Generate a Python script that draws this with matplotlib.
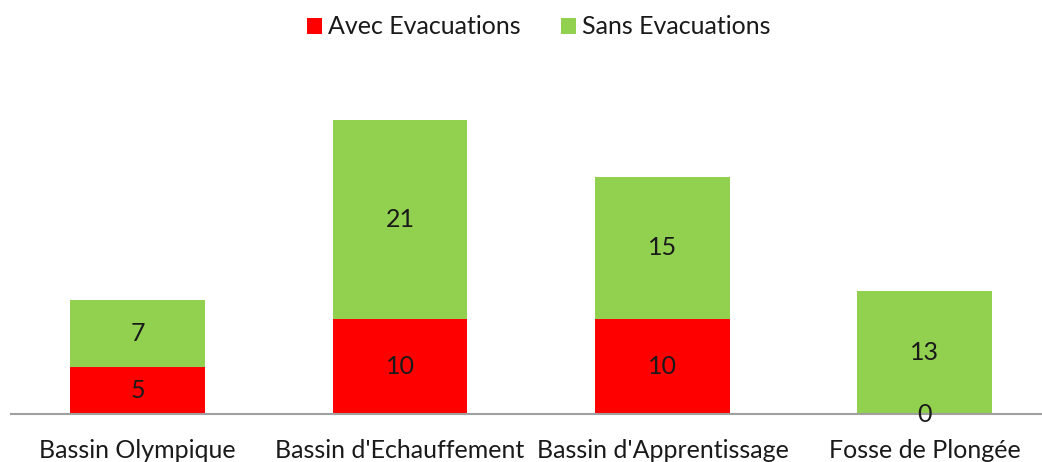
import matplotlib.pyplot as plt
import numpy as np

categories = ["Bassin Olympique", "Bassin d'Echauffement",
              "Bassin d'Apprentissage", "Fosse de Plongée"]
avec = [5, 10, 10, 0]
sans = [7, 21, 15, 13]
series_names = ["Avec Evacuations", "Sans Evacuations"]

plt.rcParams["font.family"] = ["Lato", "DejaVu Sans"]

W, H = 1042, 462
fig = plt.figure(figsize=(W / 100, H / 100), dpi=100)
ax = fig.add_axes([11 / W, 48 / H, (1042 - 11) / W, 354 / H])

x = np.arange(len(categories))
width = 0.514
b1 = ax.bar(x, avec, width, color="#FF0000", label=series_names[0])
b2 = ax.bar(x, sans, width, bottom=avec, color="#92D050", label=series_names[1])

for rects, vals, bottoms in [(b1, avec, [0] * 4), (b2, sans, avec)]:
    for r, v, b in zip(rects, vals, bottoms):
        ax.text(r.get_x() + r.get_width() / 2, b + v / 2, str(v),
                ha="center", va="center", fontsize=18, color="#1a1a1a")

ax.set_xlim(-0.482, 3.446)
ax.set_ylim(0, 37.3)
ax.set_xticks(x)
ax.set_xticklabels(categories, fontsize=18, color="#1a1a1a")
ax.tick_params(axis="x", length=0, pad=18)
ax.set_yticks([])
for s in ["top", "right", "left"]:
    ax.spines[s].set_visible(False)
ax.spines["bottom"].set_color("#a0a0a0")
ax.spines["bottom"].set_linewidth(1.5)

fig.legend(loc="center", bbox_to_anchor=(539 / W, 1 - 27 / H), ncol=2,
           frameon=False, fontsize=18, handlelength=0.6, handleheight=0.6,
           handletextpad=0.25, columnspacing=1.6, labelcolor="#1a1a1a")

fig.savefig("out.png", dpi=100)
